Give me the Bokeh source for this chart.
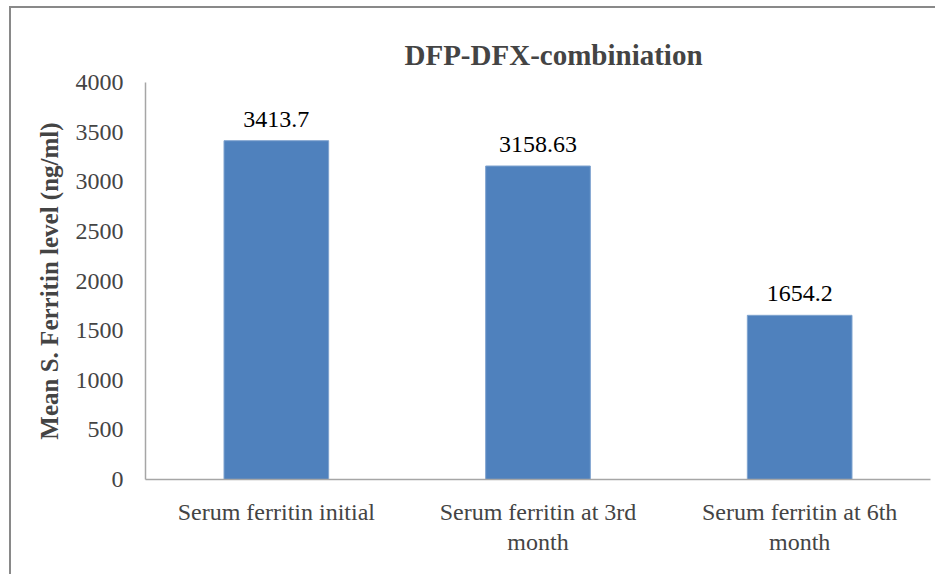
from bokeh.plotting import figure
from bokeh.models import (ColumnDataSource, LabelSet, Range1d, SingleIntervalTicker,
                          LinearAxis, FixedTicker)
from bokeh.core.properties import value
from bokeh.embed import file_html
from bokeh.resources import INLINE

categories = ["Serum ferritin initial", "Serum ferritin at 3rd month", "Serum ferritin at 6th month"]
category_labels = ["Serum ferritin initial", "Serum ferritin at 3rd\nmonth", "Serum ferritin at 6th\nmonth"]
values = [3413.7, 3158.63, 1654.2]
value_labels = ["3413.7", "3158.63", "1654.2"]

FONT = "Times New Roman"
BAR = "#4F81BD"
AXIS = "#A6A6A6"

# category slots on a numeric axis (one unit per category, bar in the middle)
centers = [i + 0.5 for i in range(len(categories))]
line1 = {c: l.split("\n")[0] for c, l in zip(centers, category_labels)}
line2 = {c: (l.split("\n")[1] if "\n" in l else " ") for c, l in zip(centers, category_labels)}

src = ColumnDataSource(dict(cat=categories, xc=centers, val=values, lab=value_labels))

p = figure(width=926, height=568, output_backend="svg", toolbar_location=None,
           x_range=Range1d(0, len(categories)),
           y_range=Range1d(0, 4000),
           min_border_left=134, min_border_right=7, min_border_top=74, min_border_bottom=97,
           x_axis_type=None)

p.vbar(x="xc", top="val", width=0.4, source=src, fill_color=BAR, line_color="#7FA3CF", line_width=1)

p.add_layout(LabelSet(x="xc", y="val", text="lab", source=src, text_align="center",
                      text_baseline="alphabetic", y_offset=14, text_font=value(FONT),
                      text_font_size="24px", text_color="#000000"))

p.title.text = "DFP-DFX-combiniation"
p.title.text_font = FONT
p.title.text_font_size = "29px"
p.title.text_font_style = "bold"
p.title.align = "left"
p.title.offset = 259
p.title.standoff = 23

p.xgrid.grid_line_color = None
p.ygrid.grid_line_color = None
p.outline_line_color = None

p.yaxis.ticker = SingleIntervalTicker(interval=500)
p.yaxis.major_tick_line_color = None
p.yaxis.minor_tick_line_color = None
p.yaxis.axis_line_color = AXIS
p.yaxis.axis_line_width = 1.5
p.yaxis.major_label_text_font = FONT
p.yaxis.major_label_text_font_size = "24px"
p.yaxis.major_label_standoff = 16
p.yaxis.axis_label = "Mean S. Ferritin level (ng/ml)"
p.yaxis.axis_label_text_font = FONT
p.yaxis.axis_label_text_font_size = "25px"
p.yaxis.axis_label_text_font_style = "bold"
p.yaxis.axis_label_standoff = 10

ax1 = LinearAxis(ticker=FixedTicker(ticks=centers),
                 axis_line_color=AXIS, axis_line_width=1.5,
                 major_tick_line_color=None, minor_tick_line_color=None,
                 major_label_text_font=FONT, major_label_text_font_size="24px",
                 major_label_standoff=13, major_label_overrides=line1)
p.add_layout(ax1, "below")

ax2 = LinearAxis(ticker=FixedTicker(ticks=centers),
                 axis_line_color=None, major_tick_line_color=None, minor_tick_line_color=None,
                 major_label_text_font=FONT, major_label_text_font_size="24px",
                 major_label_standoff=-5, major_label_overrides=line2)
p.add_layout(ax2, "below")

p.styles = {"border-top": "2px solid #898989", "border-left": "2px solid #898989",
            "box-sizing": "border-box", "margin-left": "9px", "margin-top": "6px"}

open("out.html", "w").write(file_html(p, INLINE))
